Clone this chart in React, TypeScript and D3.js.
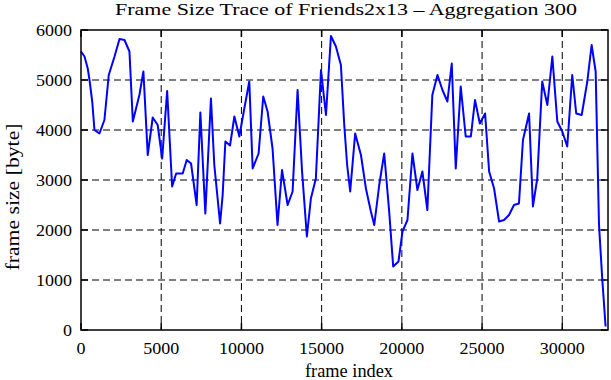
import React from "react";
import * as d3 from "d3";

const frames: number[] = [
  0, 220, 420, 530, 700, 840, 1150, 1460, 1730, 2090, 2400, 2710, 3020, 3230, 3640, 3890,
  4160, 4470, 4780, 5060, 5370, 5680, 5930, 6340, 6590, 6860, 7210, 7440, 7750, 8100, 8310,
  8670, 8830, 9000, 9290, 9560, 9870, 10180, 10490, 10700, 11070, 11360, 11630, 11940, 12250,
  12530, 12880, 13190, 13500, 13780, 14080, 14330, 14640, 14960, 15270, 15580, 15890, 16200,
  16410, 16590, 16780, 17090, 17450, 17760, 18070, 18280, 18590, 18900, 19210, 19460, 19790,
  20040, 20350, 20660, 20970, 21280, 21590, 21900, 22220, 22530, 22840, 23110, 23360, 23670,
  23980, 24300, 24560, 24860, 25190, 25440, 25750, 26060, 26370, 26680, 26990, 27300, 27550,
  27930, 28170, 28440, 28750, 29070, 29380, 29690, 30000, 30310, 30620, 30870, 31210, 31560,
  31830, 32080, 32290, 32490, 32700,
];

const sizes: number[] = [
  5570, 5470, 5230, 5000, 4570, 4000, 3930, 4200, 5100, 5470, 5820, 5800, 5570, 4170, 4700, 5170,
  3500, 4250, 4100, 3430, 4780, 2870, 3130, 3130, 3400, 3330, 2500, 4350, 2330, 4630, 3300,
  2130, 2700, 3770, 3690, 4270, 3870, 4430, 4970, 3230, 3530, 4670, 4370, 3630, 2100,
  3200, 2500, 2770, 4800, 3170, 1870, 2630, 3030, 5200, 4300, 5880, 5670, 5300,
  4100, 3300, 2770, 3930, 3500, 2830, 2370, 2100, 2900, 3530, 2370, 1270, 1370,
  1970, 2200, 3530, 2800, 3170, 2400, 4700, 5100, 4800, 4570, 5330, 3230, 4870,
  3870, 3870, 4600, 4130, 4330, 3170, 2830, 2170, 2200, 2300, 2500, 2530, 3800,
  4330, 2470, 3030, 4970, 4500, 5470, 4170, 3970, 3670, 5100, 4330, 4300, 4970,
  5700, 5170, 2100, 1030, 70,
];

const xTicks: number[] = [0, 5000, 10000, 15000, 20000, 25000, 30000];
const yTicks: number[] = [0, 1000, 2000, 3000, 4000, 5000, 6000];

const titleText = "Frame Size Trace of Friends2x13 \u2013 Aggregation 300";
const xLabel = "frame index";
const yLabel = "frame size [byte]";

export default function App() {
  const W = 611;
  const H = 380;
  const left = 81;
  const right = 608;
  const top = 30;
  const bottom = 330;

  const x = d3.scaleLinear().domain([0, 32850]).range([left, right]);
  const y = d3.scaleLinear().domain([0, 6000]).range([bottom, top]);

  const data = frames.map((f, i) => ({ f, v: sizes[i] }));
  const line = d3
    .line<{ f: number; v: number }>()
    .x((d) => x(d.f))
    .y((d) => y(d.v));

  const font = "'Liberation Serif', 'Times New Roman', serif";
  const tickLen = 7;

  return (
    <svg
      width={W}
      height={H}
      style={{ position: "absolute", left: 0, top: 0, background: "#fff" }}
    >
      <rect x={0} y={0} width={W} height={H} fill="#fff" />
      {/* grid */}
      {yTicks
        .filter((t) => t !== 0 && t !== 6000)
        .map((t) => (
          <line
            key={"gy" + t}
            x1={left}
            x2={right}
            y1={y(t)}
            y2={y(t)}
            stroke="#000"
            strokeWidth={1}
            strokeDasharray="7,4"
          />
        ))}
      {xTicks
        .filter((t) => t !== 0)
        .map((t) => (
          <line
            key={"gx" + t}
            x1={x(t)}
            x2={x(t)}
            y1={top}
            y2={bottom}
            stroke="#000"
            strokeWidth={1}
            strokeDasharray="7,4"
          />
        ))}
      {/* ticks */}
      {yTicks.map((t) => (
        <g key={"ty" + t}>
          <line x1={left} x2={left + tickLen} y1={y(t)} y2={y(t)} stroke="#000" strokeWidth={1.5} />
          <line x1={right} x2={right - tickLen} y1={y(t)} y2={y(t)} stroke="#000" strokeWidth={1.5} />
          <text
            x={72}
            y={y(t) + 6}
            textAnchor="end"
            fontFamily={font}
            fontSize={16}
            textLength={t === 0 ? 9 : 9 * String(t).length}
            lengthAdjust="spacingAndGlyphs"
          >
            {t}
          </text>
        </g>
      ))}
      {xTicks.map((t) => (
        <g key={"tx" + t}>
          <line x1={x(t)} x2={x(t)} y1={bottom} y2={bottom - tickLen} stroke="#000" strokeWidth={1.5} />
          <line x1={x(t)} x2={x(t)} y1={top} y2={top + tickLen} stroke="#000" strokeWidth={1.5} />
          <text
            x={x(t)}
            y={354}
            textAnchor="middle"
            fontFamily={font}
            fontSize={16}
            textLength={9 * String(t).length}
            lengthAdjust="spacingAndGlyphs"
          >
            {t}
          </text>
        </g>
      ))}
      {/* data line */}
      <path d={line(data) || ""} fill="none" stroke="#0000ff" strokeWidth={2} strokeLinejoin="round" />
      {/* frame */}
      <rect
        x={left}
        y={top}
        width={right - left}
        height={bottom - top}
        fill="none"
        stroke="#000"
        strokeWidth={1.5}
      />
      {/* title */}
      <text
        x={346}
        y={15}
        textAnchor="middle"
        fontFamily={font}
        fontSize={17}
        textLength={462}
        lengthAdjust="spacingAndGlyphs"
      >
        {titleText}
      </text>
      <text
        x={349}
        y={377}
        textAnchor="middle"
        fontFamily={font}
        fontSize={18}
        textLength={88}
        lengthAdjust="spacingAndGlyphs"
      >
        {xLabel}
      </text>
      <text
        transform="translate(19,197) rotate(-90)"
        textAnchor="middle"
        fontFamily={font}
        fontSize={18}
        textLength={147}
        lengthAdjust="spacingAndGlyphs"
      >
        {yLabel}
      </text>
    </svg>
  );
}
